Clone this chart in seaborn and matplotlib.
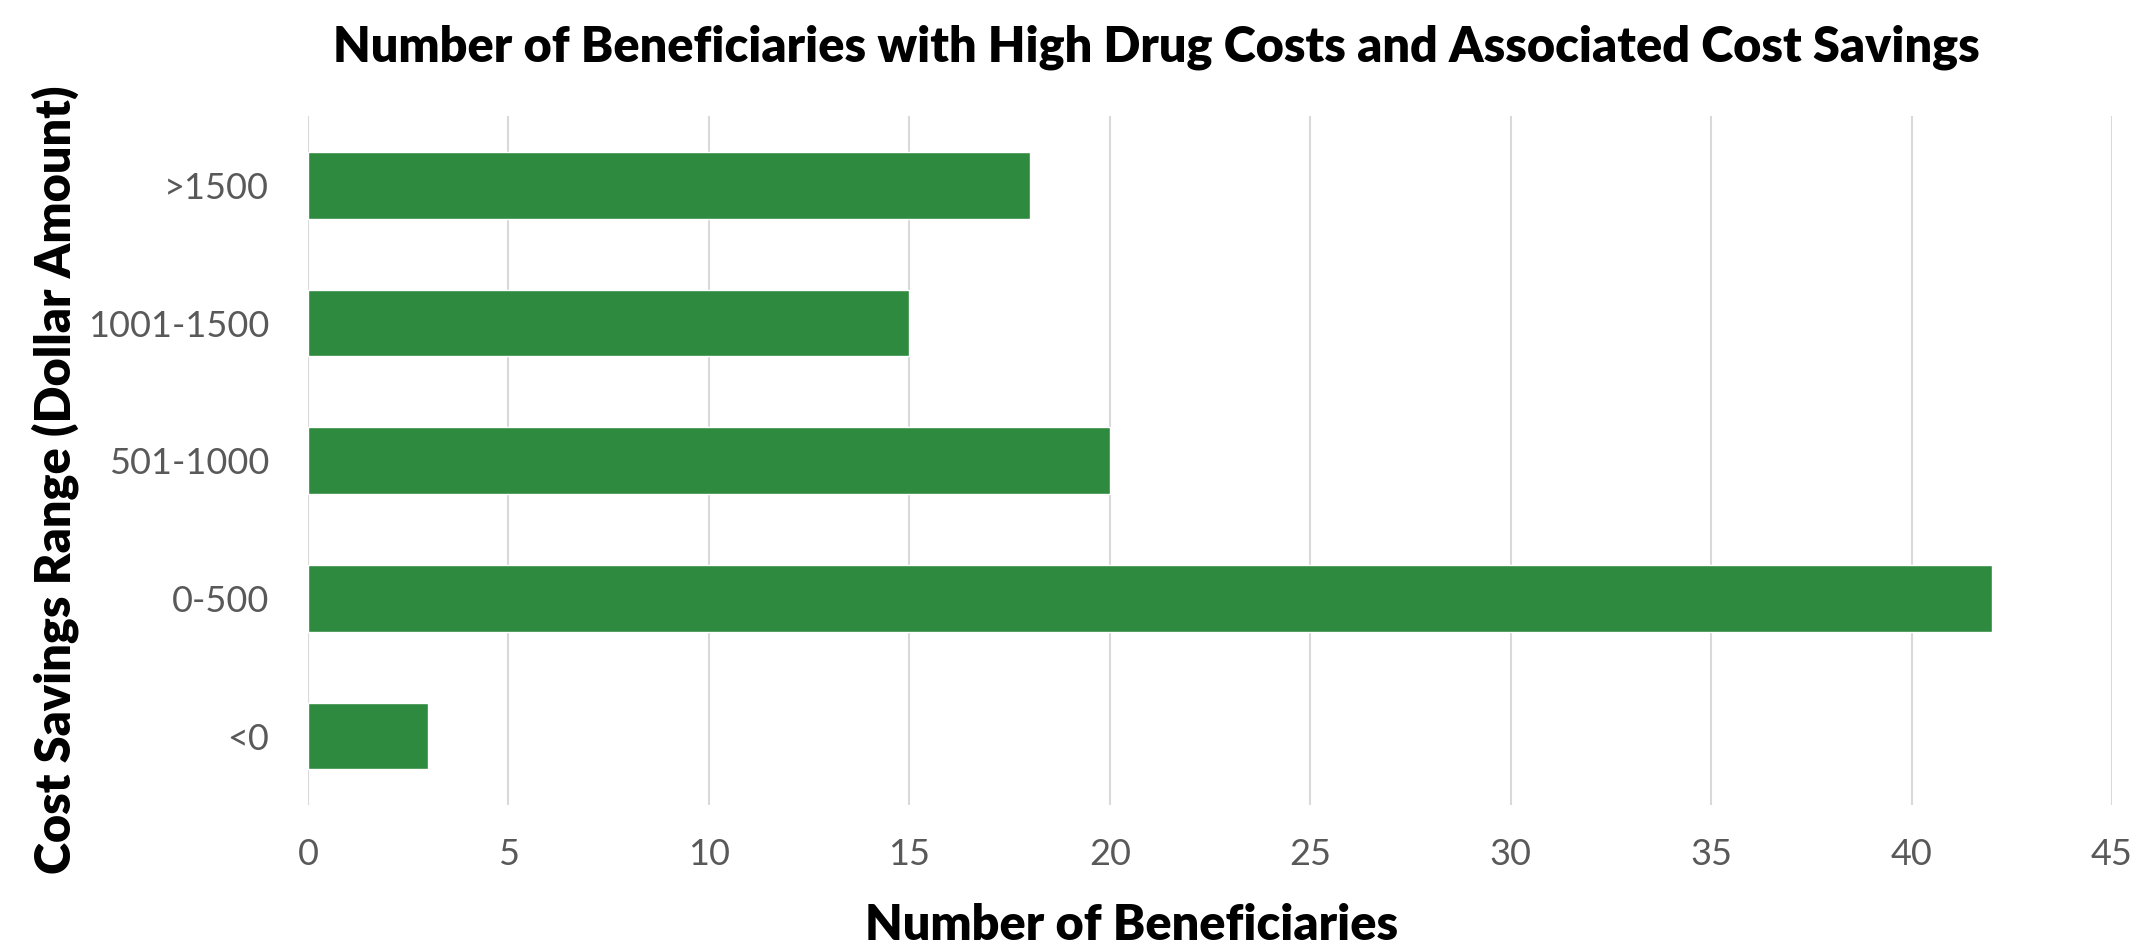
import matplotlib
matplotlib.use("Agg")
import matplotlib.pyplot as plt
import seaborn as sns
import pandas as pd

# data
ranges = [">1500", "1001-1500", "501-1000", "0-500", "<0"]
beneficiaries = [18, 15, 20, 42, 3]
x_ticks = [0, 5, 10, 15, 20, 25, 30, 35, 40, 45]

df = pd.DataFrame({"range": ranges, "count": beneficiaries})

sns.set_theme(style="white")
plt.rcParams["font.family"] = ["Lato", "DejaVu Sans"]

W, H = 2138, 951
fig = plt.figure(figsize=(W / 100, H / 100), dpi=100)
ax = fig.add_axes([308 / W, 1 - 805 / H, (2112 - 308) / W, (805 - 116.5) / H])

sns.barplot(data=df, y="range", x="count", order=ranges, color="#2D8A3E",
            width=0.484, saturation=1, ax=ax)

ax.set_xlim(0, 45)
ax.set_xticks(x_ticks)
ax.grid(axis="x", color="#D9D9D9", linewidth=1.5)
ax.set_axisbelow(True)
for s in ax.spines.values():
    s.set_visible(False)
ax.tick_params(axis="both", length=0, labelsize=26, labelcolor="#595959")
ax.tick_params(axis="x", pad=24)
ax.tick_params(axis="y", pad=28)

ax.set_xlabel("Number of Beneficiaries", fontsize=35, fontweight="heavy", color="black")
ax.xaxis.set_label_coords((1132 - 308) / 1804, (805 - 926) / 688.5)
ax.xaxis.label.set_va("center")
ax.set_ylabel("Cost Savings Range (Dollar Amount)", fontsize=35, fontweight="heavy", color="black")
ax.yaxis.set_label_coords((55 - 308) / 1804, (805 - 480) / 688.5)
ax.yaxis.label.set_va("center")

fig.text(1156 / W, 1 - 47 / H, "Number of Beneficiaries with High Drug Costs and Associated Cost Savings",
         ha="center", va="center", fontsize=35, fontweight="heavy", color="black")

fig.savefig("out.png", dpi=100)
